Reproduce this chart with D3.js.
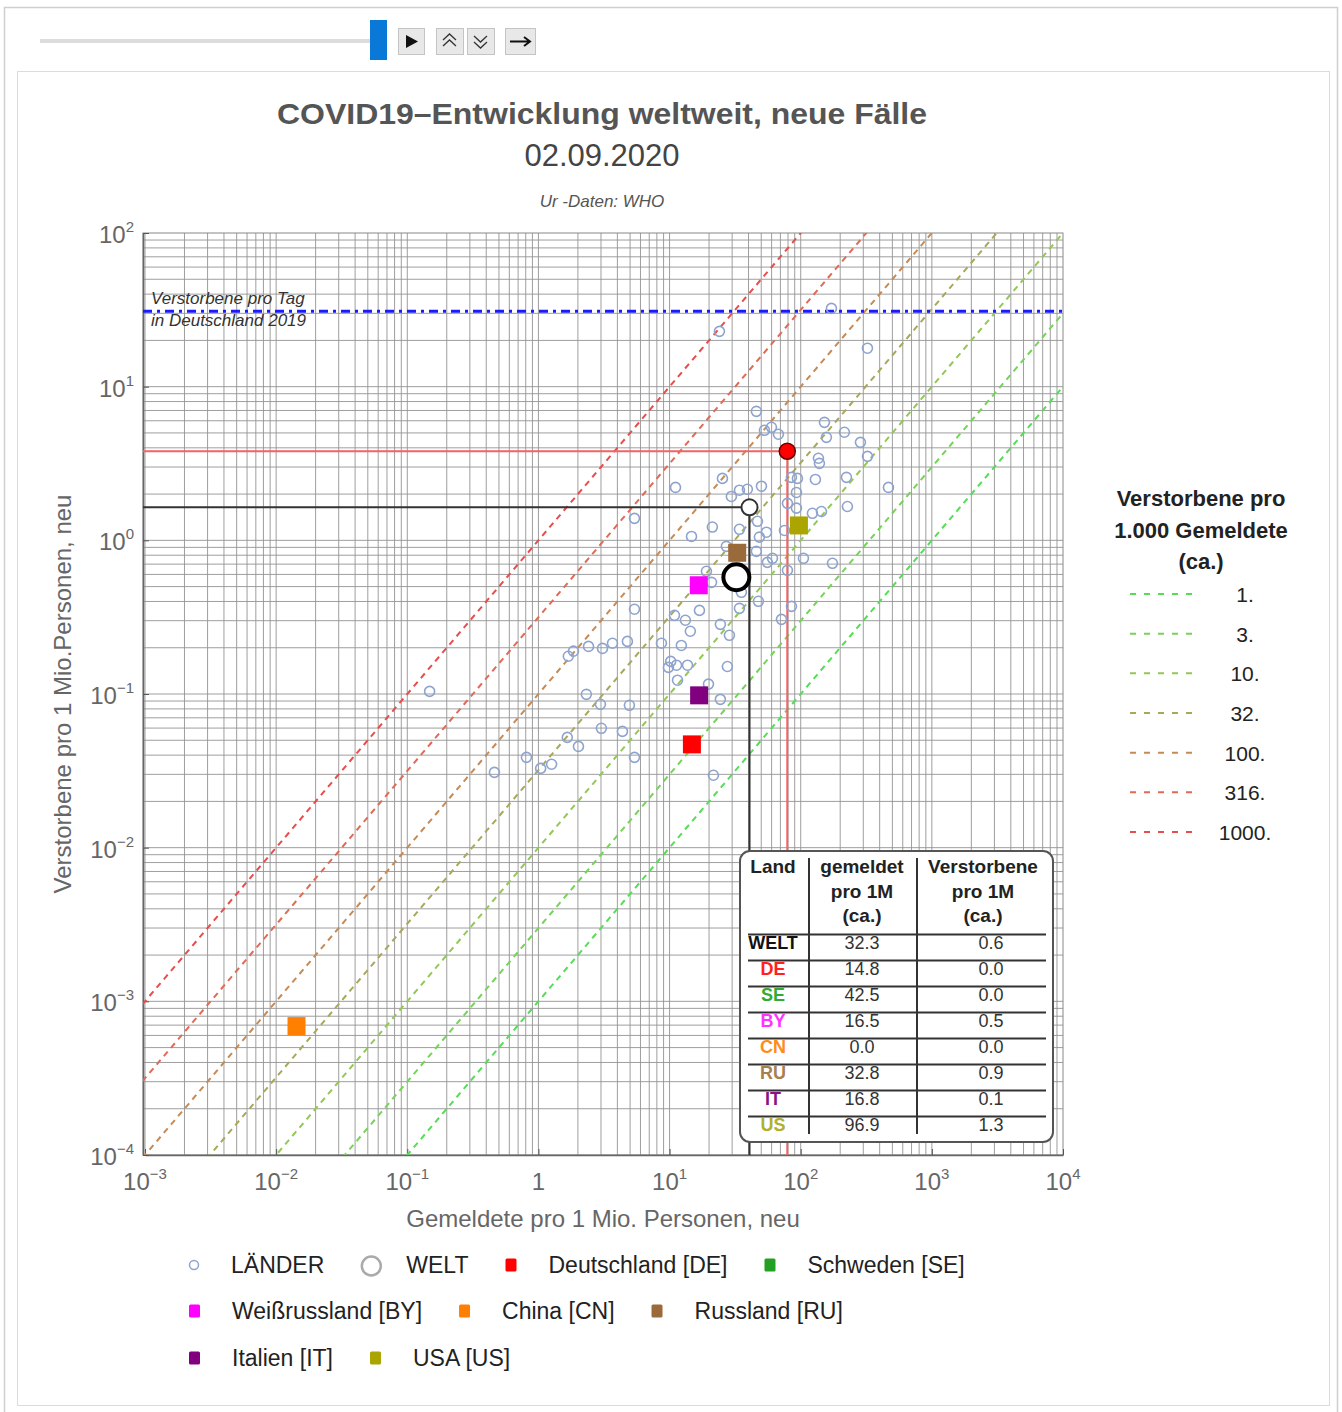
<!DOCTYPE html>
<html>
<head>
<meta charset="utf-8">
<title>COVID19-Entwicklung weltweit, neue Faelle</title>
<script src="https://d3js.org/d3.v7.min.js"></script>
<style>
  body { margin: 0; background: #fff; }
  svg text { font-family: "Liberation Sans", Arial, sans-serif; }
  .grid line { stroke: #959595; stroke-width: 1; opacity: 0.9; }
  .country { fill: none; stroke: #8ea4cf; stroke-width: 1.6; }
</style>
</head>
<body>
<script>
// --- data ---
var countryReported = [24.0, 171.5, 322.8, 45.9, 52.9, 59.8, 67.6, 151.7, 157.0, 215.4,
  285.3, 322.8, 136.5, 138.9, 25.3, 11.1, 85.0, 94.4, 129.4, 223.2,
  466.7, 50.2, 39.2, 34.1, 29.6, 92.8, 79.2, 92.8, 122.8, 143.9,
  227.0, 5.40, 21.2, 14.7, 34.1, 46.8, 54.8, 48.4, 75.2, 27.1,
  45.9, 60.9, 55.7, 104.9, 174.6, 79.2, 19.1, 20.9, 35.3, 47.6,
  34.1, 85.0, 71.3, 5.40, 16.9, 10.9, 13.2, 14.4, 24.4, 28.6,
  1.69, 1.85, 2.41, 3.08, 3.67, 4.77, 8.67, 12.3, 10.2, 9.80,
  11.3, 13.7, 27.6, 11.5, 19.8, 24.4, 0.148, 2.32, 2.97, 4.94,
  3.02, 4.37, 1.66, 2.02, 5.40, 0.810, 1.04, 1.26, 0.462, 21.6];
var countryDeaths = [22.9, 32.3, 17.8, 6.91, 5.20, 5.44, 4.90, 5.86, 4.68, 5.05,
  4.34, 3.52, 3.42, 3.17, 2.53, 2.21, 2.57, 2.53, 2.49, 2.57,
  2.21, 2.25, 2.15, 2.12, 1.93, 2.05, 1.74, 1.62, 1.50, 1.54,
  1.66, 1.39, 1.22, 1.06, 1.18, 1.33, 1.13, 1.05, 1.16, 0.914,
  0.848, 0.764, 0.719, 0.764, 0.709, 0.638, 0.629, 0.533, 0.459, 0.401,
  0.361, 0.372, 0.306, 0.356, 0.350, 0.325, 0.302, 0.256, 0.284, 0.241,
  0.176, 0.190, 0.204, 0.198, 0.214, 0.220, 0.214, 0.207, 0.163, 0.149,
  0.154, 0.154, 0.151, 0.123, 0.116, 0.0923, 0.104, 0.0995, 0.0857, 0.0844,
  0.0598, 0.0571, 0.0522, 0.0456, 0.0387, 0.0387, 0.0328, 0.0349, 0.0309, 0.0296];

var markerCodes = ["DE", "BY", "CN", "RU", "IT", "US"];
var markerReported = [14.8, 16.7, 0.0143, 32.8, 16.8, 96.9];
var markerDeaths = [0.047, 0.51, 0.00069, 0.83, 0.098, 1.25];
var markerColors = ["#ff0000", "#ff00ff", "#ff8000", "#9b6a3a", "#800080", "#aaa500"];

var weltPoint = [32.3, 0.575];
var redPoint = [79, 3.8];
var blackPoint = [40.7, 1.64];
var germanyDeaths2019 = 31;

var rateValues = [1, 3, 10, 32, 100, 316, 1000];
var rateLabels = ["1.", "3.", "10.", "32.", "100.", "316.", "1000."];
var rateColors = ["#55dd55", "#74d456", "#93c756", "#a8a85a", "#c68a55", "#e06a55", "#e84c4c"];

var tableCodes = ["WELT", "DE", "SE", "BY", "CN", "RU", "IT", "US"];
var tableReported = ["32.3", "14.8", "42.5", "16.5", "0.0", "32.8", "16.8", "96.9"];
var tableDeaths = ["0.6", "0.0", "0.0", "0.5", "0.0", "0.9", "0.1", "1.3"];
var tableColors = ["#111", "#ff2020", "#33aa33", "#ff33ff", "#ff8c1a", "#a88050", "#881188", "#b0b030"];

var xTicks = [1e-3, 1e-2, 1e-1, 1, 1e1, 1e2, 1e3, 1e4];
var yTicks = [1e-4, 1e-3, 1e-2, 1e-1, 1, 1e1, 1e2];

var legendRows = [
  [{t: "circle", c: "#8ea4cf", label: "LÄNDER"}, {t: "big", c: "#aaa", label: "WELT"},
   {t: "sq", c: "#ff0000", label: "Deutschland [DE]"}, {t: "sq", c: "#22a022", label: "Schweden [SE]"}],
  [{t: "sq", c: "#ff00ff", label: "Weißrussland [BY]"}, {t: "sq", c: "#ff8000", label: "China [CN]"},
   {t: "sq", c: "#9b6a3a", label: "Russland [RU]"}],
  [{t: "sq", c: "#800080", label: "Italien [IT]"}, {t: "sq", c: "#aaa500", label: "USA [US]"}]
];

var W = 1342, H = 1412;
var svg = d3.select("body").append("svg").attr("width", W).attr("height", H);

// --- frame & controls ---
svg.append("rect").attr("x", 4.5).attr("y", 7.5).attr("width", 1333).attr("height", 1420)
  .attr("fill", "none").attr("stroke", "#cfcfcf").attr("stroke-width", 1.5);
svg.append("rect").attr("x", 17.5).attr("y", 71.5).attr("width", 1312).attr("height", 1334)
  .attr("fill", "none").attr("stroke", "#dcdcdc");
svg.append("rect").attr("x", 40).attr("y", 39).attr("width", 335).attr("height", 4).attr("fill", "#dcdcdc");
svg.append("rect").attr("x", 370).attr("y", 20).attr("width", 17).attr("height", 40).attr("fill", "#0a78d7");
var buttons = [[398, 26], [436, 27], [467, 27], [505, 30]];
buttons.forEach(function(b) {
  svg.append("rect").attr("x", b[0] + 0.5).attr("y", 28.5).attr("width", b[1]).attr("height", 26)
    .attr("fill", "#e8e8e8").attr("stroke", "#c4c4c4");
});
svg.append("path").attr("d", "M406,35 L418,41.5 L406,48 Z").attr("fill", "#111");
svg.append("path").attr("d", "M443,40 L449.5,34 L456,40 M443,46 L449.5,40 L456,46")
  .attr("fill", "none").attr("stroke", "#333").attr("stroke-width", 1.3);
svg.append("path").attr("d", "M474,36 L480.5,42 L487,36 M474,42 L480.5,48 L487,42")
  .attr("fill", "none").attr("stroke", "#333").attr("stroke-width", 1.3);
svg.append("path").attr("d", "M510,41.5 H529 M524,37 L530,41.5 L524,46")
  .attr("fill", "none").attr("stroke", "#111").attr("stroke-width", 2);

// --- titles ---
svg.append("text").attr("x", 602).attr("y", 124).attr("text-anchor", "middle")
  .attr("font-size", 30).attr("font-weight", "bold").attr("fill", "#555")
  .attr("textLength", 650).attr("lengthAdjust", "spacingAndGlyphs")
  .text("COVID19–Entwicklung weltweit, neue Fälle");
svg.append("text").attr("x", 602).attr("y", 166).attr("text-anchor", "middle")
  .attr("font-size", 31).attr("fill", "#444").text("02.09.2020");
svg.append("text").attr("x", 602).attr("y", 207).attr("text-anchor", "middle")
  .attr("font-size", 17).attr("font-style", "italic").attr("fill", "#555").text("Ur -Daten: WHO");

// --- scales ---
var pLeft = 143, pRight = 1063, pTop = 233, pBottom = 1155;
var x = d3.scaleLog().domain([1e-3, 1e4]).range([pLeft + 2, pRight]);
var y = d3.scaleLog().domain([1e-4, 1e2]).range([pBottom, pTop]);

svg.append("clipPath").attr("id", "plotclip").append("rect")
  .attr("x", pLeft).attr("y", pTop).attr("width", pRight - pLeft).attr("height", pBottom - pTop);

// grid lines 1..9 per decade
var xGrid = [], yGrid = [];
for (var e = -3; e < 4; e++) for (var m = 1; m < 10; m++) xGrid.push(m * Math.pow(10, e));
for (var e2 = -4; e2 < 2; e2++) for (var m2 = 1; m2 < 10; m2++) yGrid.push(m2 * Math.pow(10, e2));
var grid = svg.append("g").attr("class", "grid");
grid.selectAll(".gx").data(xGrid).enter().append("line")
  .attr("x1", function(d) { return x(d); }).attr("x2", function(d) { return x(d); })
  .attr("y1", pTop).attr("y2", pBottom);
grid.selectAll(".gy").data(yGrid).enter().append("line")
  .attr("y1", function(d) { return y(d); }).attr("y2", function(d) { return y(d); })
  .attr("x1", pLeft).attr("x2", pRight);
svg.append("rect").attr("x", pLeft).attr("y", pTop).attr("width", pRight - pLeft).attr("height", pBottom - pTop)
  .attr("fill", "none").attr("stroke", "#888");

// axes
var xAxis = svg.append("g").attr("transform", "translate(0," + pBottom + ")")
  .call(d3.axisBottom(x).tickValues(xTicks).tickFormat("").tickSizeInner(-6).tickSizeOuter(0));
var yAxis = svg.append("g").attr("transform", "translate(" + pLeft + ",0)")
  .call(d3.axisLeft(y).tickValues(yTicks).tickFormat("").tickSizeInner(-6).tickSizeOuter(0));
[xAxis, yAxis].forEach(function(a) {
  a.select(".domain").attr("stroke", "#666").attr("stroke-width", 1.5);
  a.selectAll(".tick line").attr("stroke", "#555");
});

function powLabel(t, v, isX) {
  var ex = Math.round(Math.log10(v));
  if (isX && ex === 0) { t.text("1"); return; }
  t.append("tspan").text("10");
  t.append("tspan").attr("dy", -11).attr("font-size", 15).text(ex < 0 ? "−" + (-ex) : ex);
}
svg.selectAll(".xlab").data(xTicks).enter().append("text")
  .attr("x", function(d) { return x(d); }).attr("y", 1190)
  .attr("text-anchor", "middle").attr("font-size", 24).attr("fill", "#666")
  .each(function(d) { powLabel(d3.select(this), d, true); });
svg.selectAll(".ylab").data(yTicks).enter().append("text")
  .attr("x", 134).attr("y", function(d) { return y(d) + 10; })
  .attr("text-anchor", "end").attr("font-size", 24).attr("fill", "#666")
  .each(function(d) { powLabel(d3.select(this), d, false); });

svg.append("text").attr("x", 603).attr("y", 1227).attr("text-anchor", "middle")
  .attr("font-size", 24).attr("fill", "#666").text("Gemeldete pro 1 Mio. Personen, neu");
svg.append("text").attr("transform", "translate(71,694) rotate(-90)").attr("text-anchor", "middle")
  .attr("font-size", 24).attr("fill", "#666").text("Verstorbene pro 1 Mio.Personen, neu");

// --- plot content ---
var plot = svg.append("g").attr("clip-path", "url(#plotclip)");

var line = d3.line().x(function(d) { return x(d[0]); }).y(function(d) { return y(d[1]); });
plot.selectAll(".rate").data(rateValues).enter().append("path")
  .attr("d", function(k) { return line([[1e-4, 1e-4 * k / 1000], [1e5, 1e5 * k / 1000]]); })
  .attr("fill", "none").attr("stroke-width", 2).attr("stroke-dasharray", "6,5")
  .attr("stroke", function(k, i) { return rateColors[i]; });

plot.append("line").attr("x1", pLeft).attr("x2", pRight)
  .attr("y1", y(germanyDeaths2019)).attr("y2", y(germanyDeaths2019))
  .attr("stroke", "#1a1aff").attr("stroke-width", 3).attr("stroke-dasharray", "9,5,3,5");

plot.append("path")
  .attr("d", "M" + pLeft + "," + y(redPoint[1]) + "H" + x(redPoint[0]) + "V" + pBottom)
  .attr("fill", "none").attr("stroke", "#f26363").attr("stroke-width", 2);
plot.append("path")
  .attr("d", "M" + pLeft + "," + y(blackPoint[1]) + "H" + x(blackPoint[0]) + "V" + pBottom)
  .attr("fill", "none").attr("stroke", "#333").attr("stroke-width", 2);

plot.selectAll(".country").data(countryReported).enter().append("circle")
  .attr("class", "country")
  .attr("cx", function(d) { return x(d); })
  .attr("cy", function(d, i) { return y(countryDeaths[i]); })
  .attr("r", 5);

plot.selectAll(".marker").data(markerCodes).enter().append("rect")
  .attr("x", function(d, i) { return x(markerReported[i]) - 9; })
  .attr("y", function(d, i) { return y(markerDeaths[i]) - 9; })
  .attr("width", 18).attr("height", 18)
  .attr("fill", function(d, i) { return markerColors[i]; });

plot.append("circle").attr("cx", x(weltPoint[0])).attr("cy", y(weltPoint[1])).attr("r", 13)
  .attr("fill", "#fff").attr("stroke", "#000").attr("stroke-width", 4);
plot.append("circle").attr("cx", x(redPoint[0])).attr("cy", y(redPoint[1])).attr("r", 8)
  .attr("fill", "#ff0000").attr("stroke", "#6a0000").attr("stroke-width", 1.5);
plot.append("circle").attr("cx", x(blackPoint[0])).attr("cy", y(blackPoint[1])).attr("r", 8)
  .attr("fill", "#fff").attr("stroke", "#333").attr("stroke-width", 2);

svg.append("text").attr("x", 151).attr("y", 304).attr("font-size", 17).attr("font-style", "italic")
  .attr("fill", "#333").text("Verstorbene pro Tag");
svg.append("text").attr("x", 151).attr("y", 326).attr("font-size", 17).attr("font-style", "italic")
  .attr("fill", "#333").text("in Deutschland 2019");

// --- table ---
var tbl = svg.append("g");
tbl.append("rect").attr("x", 740).attr("y", 851).attr("width", 313).attr("height", 291).attr("rx", 10)
  .attr("fill", "#fff").attr("stroke", "#555").attr("stroke-width", 2);
var colX = [773, 862, 983];
var headers = [["Land"], ["gemeldet", "pro 1M", "(ca.)"], ["Verstorbene", "pro 1M", "(ca.)"]];
headers.forEach(function(h, c) {
  h.forEach(function(s, j) {
    tbl.append("text").attr("x", colX[c]).attr("y", 873 + j * 24.5).attr("text-anchor", "middle")
      .attr("font-size", 19).attr("font-weight", "bold").attr("fill", "#222").text(s);
  });
});
var rowY = d3.scaleLinear().domain([0, tableCodes.length - 1]).range([949, 1131]);
tbl.selectAll(".rline").data(tableCodes).enter().append("line")
  .attr("x1", 748).attr("x2", 1046)
  .attr("y1", function(d, i) { return rowY(i) - 14.5; }).attr("y2", function(d, i) { return rowY(i) - 14.5; })
  .attr("stroke", "#333").attr("stroke-width", 2);
[809, 917].forEach(function(cx) {
  tbl.append("line").attr("x1", cx).attr("x2", cx).attr("y1", 858).attr("y2", 1134)
    .attr("stroke", "#333").attr("stroke-width", 2);
});
tbl.selectAll(".rcode").data(tableCodes).enter().append("text")
  .attr("x", colX[0]).attr("y", function(d, i) { return rowY(i); }).attr("text-anchor", "middle")
  .attr("font-size", 18).attr("font-weight", "bold")
  .attr("fill", function(d, i) { return tableColors[i]; }).text(function(d) { return d; });
tbl.selectAll(".rrep").data(tableReported).enter().append("text")
  .attr("x", colX[1]).attr("y", function(d, i) { return rowY(i); }).attr("text-anchor", "middle")
  .attr("font-size", 18).attr("fill", "#333").text(function(d) { return d; });
tbl.selectAll(".rdea").data(tableDeaths).enter().append("text")
  .attr("x", colX[2] + 8).attr("y", function(d, i) { return rowY(i); }).attr("text-anchor", "middle")
  .attr("font-size", 18).attr("fill", "#333").text(function(d) { return d; });

// --- right legend ---
["Verstorbene pro", "1.000 Gemeldete", "(ca.)"].forEach(function(s, j) {
  svg.append("text").attr("x", 1201).attr("y", 506 + j * 31.5).attr("text-anchor", "middle")
    .attr("font-size", 22).attr("font-weight", "bold").attr("fill", "#222").text(s);
});
var legY = d3.scaleLinear().domain([0, rateValues.length - 1]).range([594, 832]);
svg.selectAll(".rleg").data(rateValues).enter().append("line")
  .attr("x1", 1130).attr("x2", 1194)
  .attr("y1", function(d, i) { return legY(i); }).attr("y2", function(d, i) { return legY(i); })
  .attr("stroke", function(d, i) { return rateColors[i]; })
  .attr("stroke-width", 2).attr("stroke-dasharray", "6,8");
svg.selectAll(".rlab").data(rateLabels).enter().append("text")
  .attr("x", 1245).attr("y", function(d, i) { return legY(i) + 8; }).attr("text-anchor", "middle")
  .attr("font-size", 21).attr("fill", "#222").text(function(d) { return d; });

// --- bottom legend ---
var rowYs = [1265, 1311, 1358];
legendRows.forEach(function(row, r) {
  var cx = 189, cy = rowYs[r];
  row.forEach(function(it) {
    var w;
    if (it.t === "circle") {
      w = 10;
      svg.append("circle").attr("cx", cx + 5).attr("cy", cy).attr("r", 4.5)
        .attr("fill", "none").attr("stroke", it.c).attr("stroke-width", 1.5);
    } else if (it.t === "big") {
      w = 20;
      svg.append("circle").attr("cx", cx + 10).attr("cy", cy + 1).attr("r", 9.5)
        .attr("fill", "#fff").attr("stroke", it.c).attr("stroke-width", 2.5);
    } else {
      w = 11;
      svg.append("rect").attr("x", cx).attr("y", cy - 6.5).attr("width", 11).attr("height", 13)
        .attr("rx", 1.5).attr("fill", it.c);
    }
    var tx = cx + w + (it.t === "big" ? 25 : 32);
    var t = svg.append("text").attr("x", tx).attr("y", cy + 8).attr("font-size", 23)
      .attr("fill", "#222").text(it.label);
    cx = tx + t.node().getComputedTextLength() + 37;
  });
});
</script>
</body>
</html>
